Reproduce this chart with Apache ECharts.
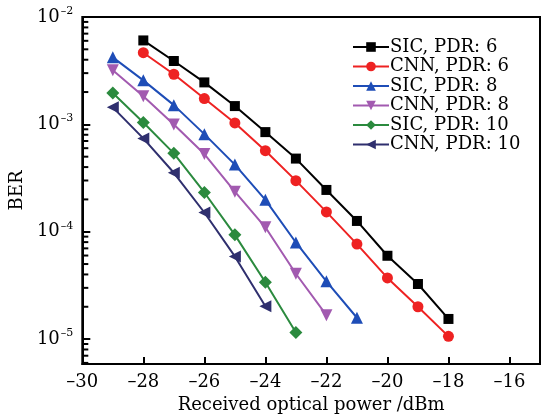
<!DOCTYPE html>
<html><head><meta charset="utf-8">
<script src="https://cdn.jsdelivr.net/npm/echarts@6/dist/echarts.min.js"></script>
<style>html,body{margin:0;padding:0;background:#fff}#c{width:543px;height:420px}</style>
</head><body><div id="c"></div>
<script>
// ---- data ----
const seriesNames = ['SIC, PDR: 6','CNN, PDR: 6','SIC, PDR: 8','CNN, PDR: 8','SIC, PDR: 10','CNN, PDR: 10'];
const powerSIC6  = [-28,-27,-26,-25,-24,-23,-22,-21,-20,-19,-18];
const berSIC6    = [6.05e-3,3.89e-3,2.46e-3,1.48e-3,8.47e-4,4.80e-4,2.45e-4,1.26e-4,5.97e-5,3.26e-5,1.54e-5];
const powerCNN6  = [-28,-27,-26,-25,-24,-23,-22,-21,-20,-19,-18];
const berCNN6    = [4.65e-3,2.93e-3,1.74e-3,1.03e-3,5.68e-4,2.99e-4,1.53e-4,7.67e-5,3.71e-5,2.0e-5,1.06e-5];
const powerSIC8  = [-29,-28,-27,-26,-25,-24,-23,-22,-21];
const berSIC8    = [4.21e-3,2.57e-3,1.51e-3,8.11e-4,4.22e-4,1.98e-4,7.94e-5,3.45e-5,1.58e-5];
const powerCNN8  = [-29,-28,-27,-26,-25,-24,-23,-22];
const berCNN8    = [3.19e-3,1.83e-3,9.98e-4,5.29e-4,2.36e-4,1.10e-4,4.06e-5,1.67e-5];
const powerSIC10 = [-29,-28,-27,-26,-25,-24,-23];
const berSIC10   = [1.96e-3,1.04e-3,5.37e-4,2.32e-4,9.35e-5,3.38e-5,1.15e-5];
const powerCNN10 = [-29,-28,-27,-26,-25,-24];
const berCNN10   = [1.44e-3,7.40e-4,3.54e-4,1.51e-4,5.89e-5,2.02e-5];

const xMin = -30, xMax = -15, xStep = 2;
const yMin = 5.86e-6, yMax = 1e-2;
const yMinorTicks = [6e-6,7e-6,8e-6,9e-6,
  2e-5,3e-5,4e-5,5e-5,6e-5,7e-5,8e-5,9e-5,
  2e-4,3e-4,4e-4,5e-4,6e-4,7e-4,8e-4,9e-4,
  2e-3,3e-3,4e-3,5e-3,6e-3,7e-3,8e-3,9e-3];
const xTitle = 'Received optical power /dBm';
const yTitle = 'BER';

// ---- chart ----
const FONT = 'DejaVu Serif';
const colors = ['#000000','#EE2222','#1E4DB7','#A25AB0','#2B8A3E','#2F2F6E'];
const symbols = ['rect','circle','triangle','triangle','diamond','triangle'];
const symbolSizes = [10,11,12,12,13,12];
const rotates = [0,0,0,180,0,90];
const xs = [powerSIC6,powerCNN6,powerSIC8,powerCNN8,powerSIC10,powerCNN10];
const ys = [berSIC6,berCNN6,berSIC8,berCNN8,berSIC10,berCNN10];

const series = seriesNames.map((n,i)=>({
  name:n, type:'line',
  data: xs[i].map((x,j)=>[x, ys[i][j]]),
  symbol: symbols[i], symbolSize: symbolSizes[i], symbolRotate: rotates[i],
  showAllSymbol:true,
  lineStyle:{color:colors[i], width:2},
  itemStyle:{color:colors[i]},
  emphasis:{disabled:true}, animation:false, z:3
}));
// logarithmic minor ticks on the left axis, placed through the axis scales
series.push({
  type:'scatter', silent:true, clip:false, z:10,
  data: yMinorTicks.map(v=>[xMin, v]),
  symbol:'rect', symbolSize:[6,2], symbolOffset:[3,0],
  itemStyle:{color:'#000', opacity:1}, tooltip:{show:false}, emphasis:{disabled:true}
});

const fmtNum = v => (v<0?'\u2013':'') + Math.abs(v);

const chart = echarts.init(document.getElementById('c'), null, {renderer:'canvas'});
chart.setOption({
  animation:false,
  color: colors,
  grid:{left:77, right:2, top:17, bottom:56, show:true, borderColor:'#000', borderWidth:2, backgroundColor:'transparent'},
  legend:{
    data: seriesNames, orient:'vertical', left:347, top:33,
    itemWidth:36, itemHeight:12, itemGap:1.5,
    textStyle:{fontFamily:FONT, fontSize:18, color:'#000', padding:[0,0,0,-4]},
    inactiveColor:'#000'
  },
  xAxis:{
    type:'value', min:xMin, max:xMax, interval:xStep,
    axisLine:{show:true, onZero:false, lineStyle:{color:'#000', width:2}},
    axisTick:{show:true, inside:true, length:7, lineStyle:{color:'#000', width:2}},
    splitLine:{show:false},
    axisLabel:{fontFamily:FONT, fontSize:18, color:'#000', margin:9,
      formatter: v => (v===xMax ? '' : fmtNum(v))},
    name: xTitle, nameLocation:'middle', nameGap:31,
    nameTextStyle:{fontFamily:FONT, fontSize:18, color:'#000'}
  },
  yAxis:{
    type:'log', logBase:10, min:yMin, max:yMax,
    axisLine:{show:true, lineStyle:{color:'#000', width:2}},
    axisTick:{show:true, inside:true, length:8, lineStyle:{color:'#000', width:2}},
    splitLine:{show:false}, minorTick:{show:false},
    axisLabel:{fontFamily:FONT, fontSize:18, color:'#000', margin:9,
      formatter: v => {
        const e = Math.round(Math.log10(v));
        if (Math.abs(v/Math.pow(10,e) - 1) > 1e-6) return '';
        return '{b|10}{s|' + (e<0?'\u2013':'') + Math.abs(e) + '}';
      },
      rich:{
        b:{fontFamily:FONT, fontSize:18, color:'#000'},
        s:{fontFamily:FONT, fontSize:11, color:'#000', verticalAlign:'top', padding:[0,0,12,1]}
      }
    },
    name: yTitle, nameLocation:'middle', nameGap:46, nameRotate:90,
    nameTextStyle:{fontFamily:FONT, fontSize:18, color:'#000'}
  },
  series: series
});
</script>
</body></html>
